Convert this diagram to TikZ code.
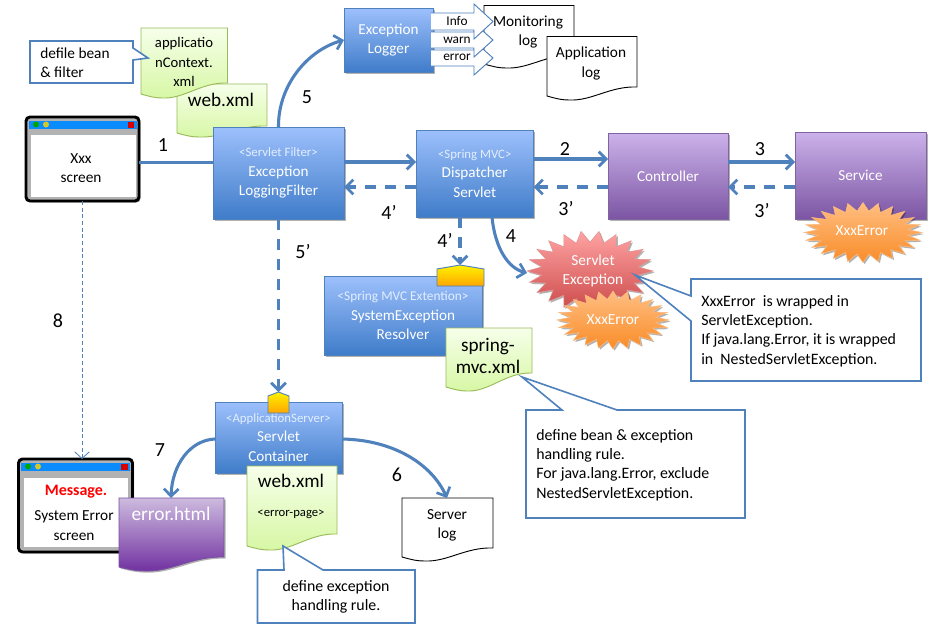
\documentclass[tikz,border=0pt]{standalone}
\usepackage{fontspec}
\setmainfont{Carlito}
\usetikzlibrary{arrows.meta,shadows,calc}
\definecolor{edge}{HTML}{4F81BD}
\definecolor{blueT}{HTML}{9DC0FC}
\definecolor{blueB}{HTML}{3F7CC9}
\definecolor{purT}{HTML}{CBB2EA}
\definecolor{purB}{HTML}{7C55A3}
\definecolor{purE}{HTML}{8064A2}
\definecolor{grnT}{HTML}{F6FFEA}
\definecolor{grnB}{HTML}{D7F7A4}
\definecolor{grnE}{HTML}{9BBB59}
\definecolor{errT}{HTML}{CDBBDF}
\definecolor{errB}{HTML}{7030A0}
\definecolor{orT}{HTML}{FFBE82}
\definecolor{orB}{HTML}{F98C28}
\definecolor{redT}{HTML}{FFA3A3}
\definecolor{redB}{HTML}{CC4A4A}
\definecolor{stereo}{HTML}{E4EEFF}
\definecolor{titlebar}{HTML}{0A8CFF}
\newcommand{\fs}[1]{\fontsize{#1}{#1}\selectfont}
\tikzset{
  softshadow/.style={drop shadow={shadow xshift=1.2pt,shadow yshift=-1.2pt,opacity=.3,fill=black}},
  pxbox/.style={inner sep=0pt,outer sep=0pt,align=center,text=white,font=\fontsize{11.4}{14.4}\selectfont},
  bluebox/.style={pxbox,draw=edge,line width=.6pt,top color=blueT,bottom color=blueB,softshadow},
  purbox/.style={pxbox,draw=purE,line width=.6pt,top color=purT,bottom color=purB,softshadow},
  frame/.style={pxbox,draw=black,line width=2.2pt,rounded corners=3pt,fill=gray!60,softshadow},
  greendoc/.style={draw=grnE,line width=.7pt,top color=grnT,bottom color=grnB},
  whitedoc/.style={draw=black,line width=.7pt,fill=white},
  purdoc/.style={draw=purE!60!errB,line width=.7pt,top color=errT,bottom color=errB,softshadow},
  conn/.style={draw=edge,line width=2.3pt,-{Straight Barb[length=5.5pt,width=11pt,line width=2pt]}},
  plainconn/.style={draw=edge,line width=2.3pt},
  dashconn/.style={conn,dash pattern=on 8pt off 7pt},
  thinconn/.style={draw=edge,line width=.6pt,dash pattern=on 3pt off 2pt,-{Straight Barb[length=5pt,width=11pt,line width=.6pt]}},
  num/.style={font=\fs{15},inner sep=0pt},
  txt/.style={font=\fontsize{11.5}{14.4}\selectfont,inner sep=0pt,align=center},
  wtxt/.style={txt,text=white},
  calltxt/.style={txt,font=\fontsize{11.9}{14.4}\selectfont,align=left,anchor=west},
  callout/.style={draw=edge,line width=1.2pt,fill=white,line join=miter},
  levelarrow/.style={draw=edge,line width=.7pt,fill=white},
  gold/.style={draw=edge,line width=.7pt,top color=yellow!90!orange,bottom color=orange!70!yellow},
  burstred/.style={draw=redB!60,line width=.4pt,top color=redT,bottom color=redB,softshadow},
  burstor/.style={draw=orB!60,line width=.4pt,top color=orT,bottom color=orB,softshadow},
}
% style, name, x1, y1, x2, y2, text
\newcommand{\pbox}[7]{%
  \pgfmathsetmacro{\pw}{(#5-#3)*0.75}\pgfmathsetmacro{\ph}{(#6-#4)*0.75}%
  \node[#1,minimum width=\pw pt,minimum height=\ph pt] (#2) at ({(#3+#5)/2},{(#4+#6)/2}) {#7};}
\newcommand{\stereotype}[2][9.6]{{\fs{#1}\textcolor{stereo}{#2}}}
% style, l, t, r, y right, y left
\newcommand{\docshape}[6]{%
  \path[#1] (#2,#3) -- (#4,#3) -- (#4,#5)
    .. controls ({#4-(#4-#2)*.3},{#5-1}) and ({#2+(#4-#2)*.5},{#6+5}) .. ({#2+(#4-#2)*.25},{#6+4})
    .. controls ({#2+(#4-#2)*.15},{#6+4}) and ({#2+(#4-#2)*.08},{#6+2}) .. (#2,#6) -- cycle;}
% style, cx, cy, rx, ry, last point index
\newcommand{\burst}[6]{%
  \path[#1] plot[samples at={0,...,#6},variable=\k]
   ({#2+(#4)*(mod(\k,2)==0?1:0.77)*cos(\k/(#6+1)*360)},{#3+(#5)*(mod(\k,2)==0?1:0.72)*sin(\k/(#6+1)*360)}) -- cycle;}
% y center, half body, half head
\newcommand{\levarrow}[3]{%
  \path[levelarrow] (431,{#1-#2}) -- (474,{#1-#2}) -- (474,{#1-#3}) -- (493,#1) -- (474,{#1+#3}) -- (474,{#1+#2}) -- (431,{#1+#2});}
\newcommand{\winbar}[3]{% x1 y1 x2
  \fill[titlebar] (#1,#2) rectangle (#3,{#2+7.5});
  \fill[green!65!black] ({#1+7},{#2+3.5}) circle (3);
  \fill[yellow!80!black] ({#1+17},{#2+3.5}) circle (3);
  \fill[red!85!black] ({#3-9},{#2+.7}) rectangle ({#3-2.5},{#2+6.5});
}
\begin{document}
\begin{tikzpicture}[x=.75pt,y=-.75pt]
\useasboundingbox (0,0) rectangle (932,625);
\fill[white] (0,0) rectangle (932,625);

% screens and thin arrow 8
\pbox{frame}{screen}{26}{117}{139}{201}{}
\winbar{29}{121}{136.5}
\fill[white] (31,135) rectangle (136,197);
\node[txt] (screenT) at (81,168) {Xxx\\screen};
\pbox{frame}{errscreen}{18.5}{459}{132.5}{552}{}
\winbar{21}{463}{130}
\fill[white] (24,478) rectangle (128,547);
\node[txt,text=red,font=\bfseries\fs{12}] (msg) at (76,492) {Message.};
\node[txt] (errT) at (74,525.5) {System Error\\screen};
\draw[thinconn] (82,0 |- screen.south) -- (82,0 |- errscreen.north);

% documents behind the filter
\docshape{greendoc}{177}{84}{267}{126}{133}
\node[font=\fs{14.4},inner sep=0pt] (web1) at (221,100) {web.xml};
\docshape{greendoc}{141}{28}{227.5}{83}{94}
\node[txt,font=\fontsize{11}{14.4}\selectfont] (app) at (184,62) {applicatio\\nContext.\\xml};
\path[callout] (30,41) -- (133,41) -- (133,48) -- (148,58) -- (133,60) -- (133,83) -- (30,83) -- cycle;
\node[calltxt,font=\fontsize{11.5}{14.4}\selectfont] (defile) at (40,62.5) {defile bean\\\& filter};

% boxes and connectors
\coordinate (burstW) at (527,273);
\pbox{bluebox}{logger}{344}{8}{433}{72}{Exception\\Logger}
\pbox{bluebox}{filter}{213}{127}{344}{219}{\stereotype{<Servlet Filter>}\\Exception\\LoggingFilter}
\pbox{bluebox}{disp}{416}{130}{533.5}{217}{\stereotype{<Spring MVC>}\\Dispatcher\\Servlet}
\pbox{purbox}{ctrl}{608}{133}{728}{219}{Controller}
\pbox{purbox}{svc}{795}{132}{926}{219}{Service}
\pbox{bluebox}{resolver}{324}{276}{482}{355}{\stereotype[10]{<Spring MVC Extention>}\\SystemException\\Resolver}
\pbox{bluebox}{container}{215}{402}{342}{473}{\stereotype{<ApplicationServer>}\\Servlet\\Container}

\draw[plainconn] (screen.east |- 0,162.5) -- (filter.west |- 0,162.5);
\draw[conn] (filter.north) .. controls (278,85) and (308,50) .. (logger.west);
\draw[conn] (filter.east |- 0,162) -- (disp.west |- 0,162);
\draw[dashconn] (disp.west |- 0,187) -- (filter.east |- 0,187);
\draw[conn] (disp.east |- 0,159) -- (ctrl.west |- 0,159);
\draw[dashconn] (ctrl.west |- 0,187) -- (disp.east |- 0,187);
\draw[conn] (ctrl.east |- 0,162) -- (svc.west |- 0,162);
\draw[dashconn] (svc.west |- 0,187) -- (ctrl.east |- 0,187);
\draw[conn] (492,0 |- disp.south) .. controls (495,248) and (508,268) .. (burstW);

% gold tags and dashed arrows
\coordinate (tagA) at (460,265);
\coordinate (tagB) at (278.5,392);
\draw[dashconn] (460,0 |- disp.south) -- (tagA);
\draw[dashconn] (278.5,0 |- filter.south) -- (tagB);
\path[gold] (437,269) -- (tagA) -- (484,269) -- (484,286) -- (437,286) -- cycle;
\path[gold] (268,396) -- (tagB) -- (289,396) -- (289,413) -- (268,413) -- cycle;

% logs
\docshape{whitedoc}{484}{5.5}{574}{55}{64}
\node[txt] (mon) at (528,32) {Monitoring\\log};
\docshape{whitedoc}{547}{36.5}{637}{87}{96}
\node[txt] (applog) at (591,63.5) {Application\\log};
\levarrow{58}{8}{17}
\levarrow{40}{8}{17}
\levarrow{21.5}{8.5}{17.5}
\node[txt,font=\fs{10}] (info) at (457,21) {Info};
\node[txt,font=\fs{10}] (warn) at (457,40) {warn};
\node[txt,font=\fs{10}] (error) at (457,57) {error};

% bursts
\burst{burstred}{590}{271}{63}{40}{43}
\node[wtxt] (servletex) at (593,271) {Servlet\\Exception};
\burst{burstor}{613}{320}{56}{29}{47}
\node[wtxt] (xxx1) at (613,320) {XxxError};
\burst{burstor}{863}{232.5}{59}{30}{47}
\node[wtxt] (xxx2) at (862,231) {XxxError};

% bottom documents and their connectors
\docshape{whitedoc}{402}{498}{493}{548}{557}
\node[txt] (srv) at (447,525) {Server\\log};
\draw[conn] (container.east |- 0,439) .. controls (395,440) and (432,465) .. (447,498);
\docshape{purdoc}{119}{498}{224}{557}{567}
\node[wtxt,font=\fs{14.5}] (errhtml) at (171,514) {error.html};
\draw[conn] (container.west |- 0,439) .. controls (190,440) and (172,465) .. (171,498);
\docshape{greendoc}{247}{466}{337}{534}{546}
\node[font=\fs{14.4},inner sep=0pt] (web2) at (291,481) {web.xml};
\node[font=\fs{9.5},inner sep=0pt] (errpage) at (291,514) {<error-page>};
\docshape{greendoc}{446}{328}{532}{373}{387}
\node[txt,font=\fontsize{14.4}{16.5}\selectfont] (spring) at (488,356) {spring-\\mvc.xml};

% callouts
\path[callout] (691,279) -- (921,279) -- (921,381) -- (691,381) -- (691,321) -- (635,275) -- (691,296) -- cycle;
\node[calltxt] (wrap) at (701,331) {XxxError\ \ is wrapped in\\ServletException.\\If java.lang.Error, it is wrapped\\in\ \ NestedServletException.};
\path[callout] (526,410) -- (562,410) -- (522,377) -- (617,410) -- (745,410) -- (745,518) -- (526,518) -- cycle;
\node[calltxt] (rule) at (536,465) {define bean \& exception\\handling rule.\\For java.lang.Error, exclude\\NestedServletException.};
\path[callout] (257.5,570) -- (284,570) -- (283,546) -- (323,570) -- (415,570) -- (415,623) -- (257.5,623) -- cycle;
\node[txt,font=\fontsize{11.9}{14.4}\selectfont] (rule2) at (336,597) {define exception\\handling rule.};

% numbers
\node[num] (n1) at (163,145) {1};
\node[num] (n5) at (307,97) {5};
\node[num] (n2) at (565,149) {2};
\node[num] (n3) at (760,149) {3};
\node[num] (n4a) at (389,212) {4’};
\node[num] (n3a) at (566,209) {3’};
\node[num] (n3b) at (762,211) {3’};
\node[num] (n4b) at (445,240) {4’};
\node[num] (n4) at (511,236) {4};
\node[num] (n5a) at (303,252) {5’};
\node[num] (n8) at (58,321) {8};
\node[num] (n7) at (160,450) {7};
\node[num] (n6) at (397,475) {6};
\end{tikzpicture}
\end{document}
